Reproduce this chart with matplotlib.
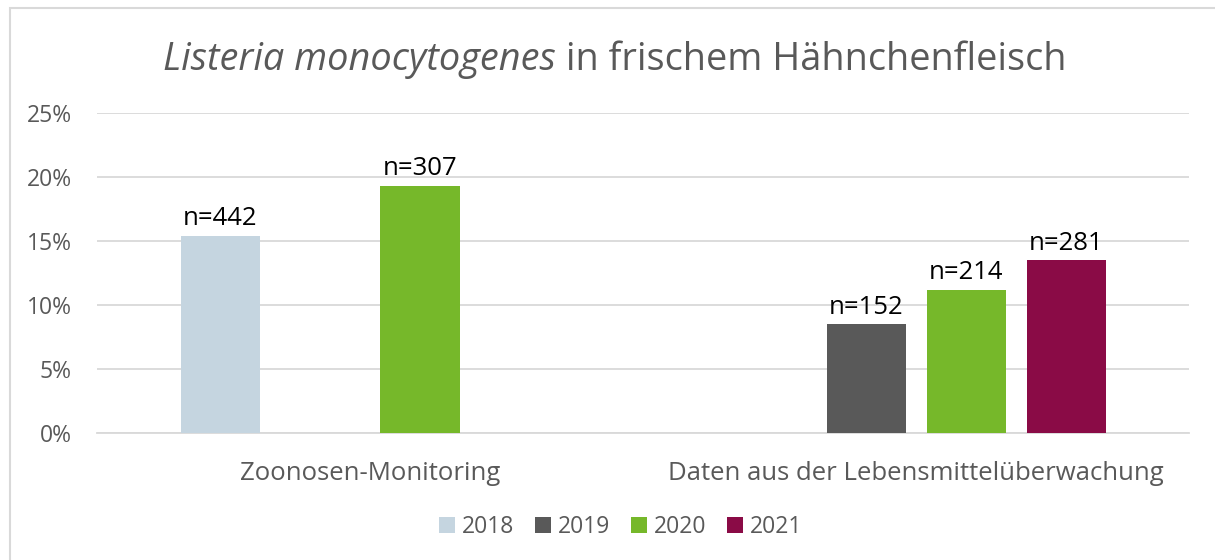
import matplotlib.pyplot as plt
import matplotlib.patches as patches
import numpy as np

plt.rcParams['font.family'] = ['Open Sans', 'DejaVu Sans']

categories = ['Zoonosen-Monitoring', 'Daten aus der Lebensmittelüberwachung']
years = ['2018', '2019', '2020', '2021']
colors = ['#c5d5e0', '#595959', '#76b82a', '#8a0b46']

# percent values per year, None = no data
values = {
    '2018': [15.4, None],
    '2019': [None, 8.5],
    '2020': [19.3, 11.2],
    '2021': [None, 13.5],
}
counts = {
    '2018': [442, None],
    '2019': [None, 152],
    '2020': [307, 214],
    '2021': [None, 281],
}

grey = '#595959'

fig = plt.figure(figsize=(12.15, 5.6), dpi=100)
ax = fig.add_axes([0.0798, 0.2268, 0.8992, 0.5714])

# outer frame
fig.patches.append(patches.Rectangle((10 / 1215, -0.1), 1.2, 1 - 8 / 560 + 0.1,
                                     transform=fig.transFigure, fill=False,
                                     edgecolor='#d9d9d9', lw=1.5))

x = np.arange(len(categories))
step = 0.183
width = 0.145

for i, (yr, col) in enumerate(zip(years, colors)):
    for j in range(len(categories)):
        v = values[yr][j]
        if v is None:
            continue
        xpos = x[j] + (i - 1.5) * step
        ax.bar(xpos, v, width=width, color=col, zorder=3)
        ax.text(xpos, v + 0.35, f'n={counts[yr][j]}', ha='center', va='bottom',
                fontsize=18.5, color='black')

# legend handles
for yr, col in zip(years, colors):
    ax.bar(0, 0, color=col, label=yr)

ax.set_xlim(-0.5, 1.5)
ax.set_ylim(0, 25)
ax.set_yticks(np.arange(0, 26, 5))
ax.set_yticklabels([f'{t}%' for t in range(0, 26, 5)])
ax.set_xticks(x)
ax.set_xticklabels(categories)
ax.yaxis.grid(True, color='#d9d9d9', lw=1.3, zorder=0)
ax.set_axisbelow(True)
for s in ['top', 'right', 'left']:
    ax.spines[s].set_visible(False)
ax.spines['bottom'].set_color('#d9d9d9')
ax.spines['bottom'].set_linewidth(1.3)
ax.tick_params(axis='both', length=0, colors=grey)
ax.tick_params(axis='y', labelsize=16.5, pad=18)
ax.tick_params(axis='x', labelsize=18.5, pad=20)

ty = 1 - 70 / 560
t1 = fig.text(0.5, ty, 'Listeria monocytogenes', style='italic',
              fontsize=27.3, color=grey, ha='right', va='baseline')
t2 = fig.text(0.5, ty, ' in frischem Hähnchenfleisch',
              fontsize=27.3, color=grey, ha='left', va='baseline')

# center the two-part title
fig.canvas.draw()
r = fig.canvas.get_renderer()
w1 = t1.get_window_extent(r).width
w2 = t2.get_window_extent(r).width
left = 615 - (w1 + w2) / 2
t1.set_position(((left + w1) / 1215, ty))
t2.set_position(((left + w1) / 1215, ty))

leg = fig.legend(loc='center', bbox_to_anchor=(0.511, 1 - 527 / 560), ncol=4,
                 frameon=False, fontsize=16.5, handlelength=0.7, handleheight=0.7,
                 handletextpad=0.3, columnspacing=0.9)
for txt in leg.get_texts():
    txt.set_color(grey)

fig.savefig('out.png', dpi=100)
